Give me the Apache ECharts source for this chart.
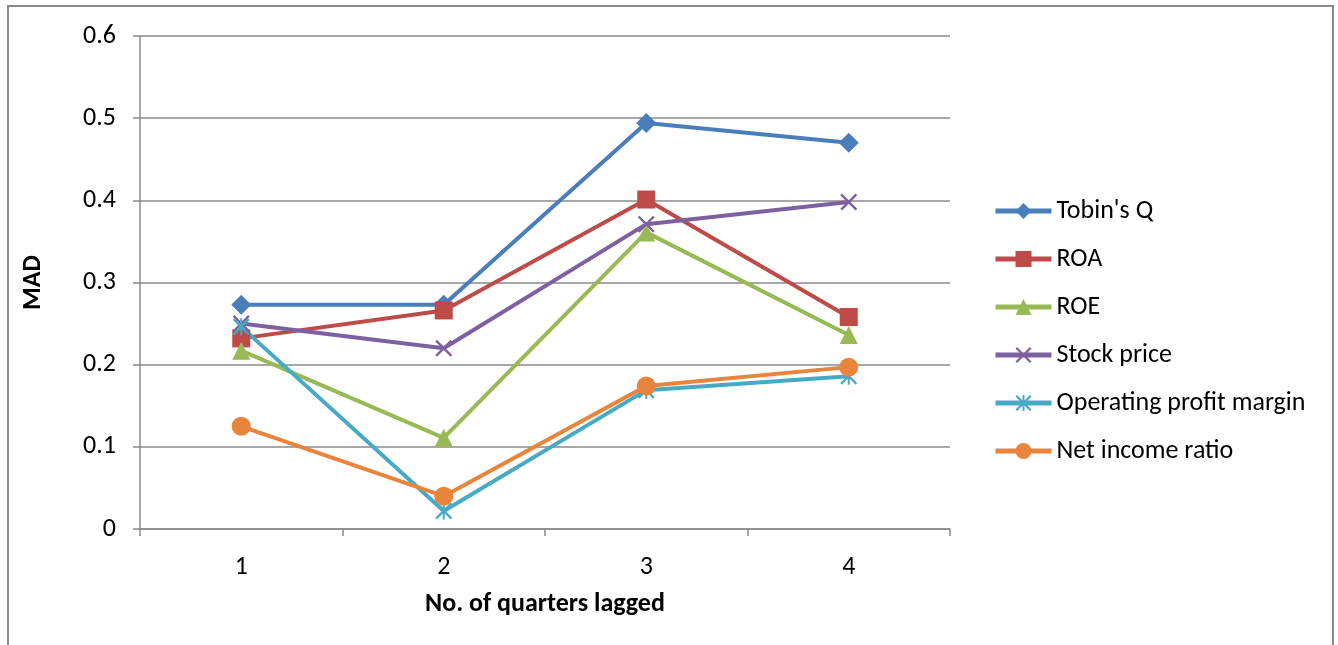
<!DOCTYPE html>
<html>
<head>
<meta charset="utf-8">
<script src="https://cdn.jsdelivr.net/npm/echarts@6/dist/echarts.min.js"></script>
<style>
  html, body { margin: 0; padding: 0; background: #fff; }
  #chart { width: 1338px; height: 645px; }
</style>
</head>
<body>
<div id="chart"></div>
<script>
// Lag (quarters) on the x axis, MAD on the y axis
const quarters = ['1', '2', '3', '4'];
const tobinsQ = [0.273, 0.273, 0.494, 0.470];
const roa = [0.232, 0.266, 0.401, 0.258];
const roe = [0.217, 0.111, 0.361, 0.236];
const stockPrice = [0.250, 0.220, 0.371, 0.398];
const operatingProfitMargin = [0.246, 0.022, 0.169, 0.186];
const netIncomeRatio = [0.125, 0.040, 0.174, 0.197];
const yTicks = { min: 0, max: 0.6, step: 0.1 };

const FONT = 'Carlito, "Liberation Sans Narrow", "Liberation Sans", sans-serif';
const FS = 26;

// marker shapes
const xMark = 'path://M0,1L1,0L5,4L9,0L10,1L6,5L10,9L9,10L5,6L1,10L0,9L4,5Z';
const starMark = 'path://M0,1L1,0L5,4L9,0L10,1L6,5L10,9L9,10L5,6L1,10L0,9L4,5Z M4.4,0L5.6,0L5.6,10L4.4,10Z';

function line(name, data, color, symbol, size) {
  return {
    name, type: 'line', data,
    symbol, symbolSize: size,
    lineStyle: { color, width: 4 },
    itemStyle: { color },
    emphasis: { disabled: true },
    animation: false
  };
}

const chart = echarts.init(document.getElementById('chart'), null, { renderer: 'canvas' });
chart.setOption({
  backgroundColor: '#fff',
  textStyle: { fontFamily: FONT },
  graphic: [{
    type: 'rect',
    shape: { x: 8, y: 6, width: 1325, height: 660 },
    style: { fill: 'none', stroke: '#8a8a8a', lineWidth: 2 },
    silent: true
  }],
  grid: { left: 140, right: 388, top: 36, bottom: 116 },
  legend: {
    orient: 'vertical',
    left: 988,
    top: 193,
    itemWidth: 56,
    itemHeight: 20,
    itemGap: 22,
    lineStyle: { width: 5 },
    textStyle: { fontSize: FS, color: '#000', fontFamily: FONT },
    data: ["Tobin's Q", 'ROA', 'ROE', 'Stock price', 'Operating profit margin', 'Net income ratio']
  },
  xAxis: {
    type: 'category',
    data: quarters,
    boundaryGap: true,
    name: 'No. of quarters lagged',
    nameLocation: 'middle',
    nameGap: 62,
    nameTextStyle: { fontSize: FS, fontWeight: 'bold', color: '#000', fontFamily: FONT },
    axisLine: { lineStyle: { color: '#8a8a8a', width: 1.5 } },
    axisTick: { show: true, length: 7, lineStyle: { color: '#8a8a8a', width: 1.5 } },
    axisLabel: { fontSize: FS, color: '#000', margin: 25, fontFamily: FONT },
    splitLine: { show: false }
  },
  yAxis: {
    type: 'value',
    min: yTicks.min, max: yTicks.max, interval: yTicks.step,
    name: 'MAD',
    nameLocation: 'middle',
    nameGap: 94,
    nameTextStyle: { fontSize: FS, fontWeight: 'bold', color: '#000', fontFamily: FONT },
    axisLine: { show: true, lineStyle: { color: '#8a8a8a', width: 1.5 } },
    axisTick: { show: true, length: 7, lineStyle: { color: '#8a8a8a', width: 1.5 } },
    axisLabel: {
      fontSize: FS, color: '#000', margin: 24, fontFamily: FONT,
      formatter: v => (v === 0 ? '0' : v.toFixed(1))
    },
    splitLine: { show: true, lineStyle: { color: '#8a8a8a', width: 1.5 } }
  },
  series: [
    line("Tobin's Q", tobinsQ, '#4a7ebb', 'diamond', 20),
    line('ROA', roa, '#be4b48', 'rect', 18),
    line('ROE', roe, '#98b954', 'triangle', 18),
    line('Stock price', stockPrice, '#7d60a0', xMark, 17),
    line('Operating profit margin', operatingProfitMargin, '#46aac5', starMark, 17),
    line('Net income ratio', netIncomeRatio, '#e8843c', 'circle', 19)
  ]
});
</script>
</body>
</html>
